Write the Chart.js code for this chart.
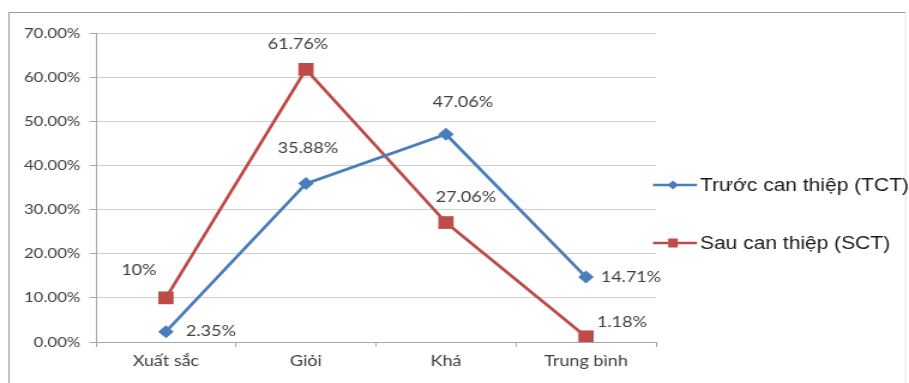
<!DOCTYPE html>
<html>
<head>
<meta charset="utf-8">
<script src="https://cdn.jsdelivr.net/npm/chart.js@4"></script>
<style>
  html, body { margin: 0; padding: 0; background: #ffffff; }
  #wrap { width: 909px; height: 383px; overflow: hidden; }
</style>
</head>
<body>
<!-- drawn on a narrower canvas, then widened to the page width -->
<div id="wrap"><canvas id="c" width="758" height="383" style="display:block;width:909px;height:383px;"></canvas></div>
<script>
// ---- data ----
const categories = ['Xuất sắc', 'Giỏi', 'Khá', 'Trung bình'];
const seriesNames = ['Trước can thiệp (TCT)', 'Sau can thiệp (SCT)'];
const truocCanThiep = [2.35, 35.88, 47.06, 14.71];
const sauCanThiep = [10, 61.76, 27.06, 1.18];
const valueLabelsTCT = ['2.35%', '35.88%', '47.06%', '14.71%'];
const valueLabelsSCT = ['10%', '61.76%', '27.06%', '1.18%'];
const yTicks = [0, 10, 20, 30, 40, 50, 60, 70];

// ---- styling ----
const BLUE = '#4A7EBB';
const RED = '#BE4B48';
const TEXT = '#404040';
const SX = 909 / 758; // horizontal widening of the canvas

// where each value label sits relative to its marker (page pixels)
const labelOffsets = [
  [[45, 0], [2, -35], [17, -32], [45, 0]],
  [[-27, -28], [-8, -25], [20, -25], [36, -15]]
];
const valueLabels = [valueLabelsTCT, valueLabelsSCT];

const framePlugin = {
  id: 'frame',
  beforeDraw(chart) {
    const ctx = chart.ctx;
    ctx.save();
    ctx.fillStyle = '#ffffff';
    ctx.fillRect(0, 0, chart.width, chart.height);
    ctx.lineWidth = 1;
    ctx.strokeStyle = '#9a9a9a';
    ctx.beginPath();
    ctx.moveTo(7.5, 383);
    ctx.lineTo(7.5, 12.5);
    ctx.lineTo(755, 12.5);
    ctx.stroke();
    ctx.strokeStyle = '#e4e4e4';
    ctx.beginPath();
    ctx.moveTo(755, 12.5);
    ctx.lineTo(755, 383);
    ctx.stroke();
    ctx.restore();
  }
};

const valueLabelPlugin = {
  id: 'valueLabels',
  afterDatasetsDraw(chart) {
    const ctx = chart.ctx;
    ctx.save();
    ctx.font = '15px Lato, "Open Sans", sans-serif';
    ctx.fillStyle = TEXT;
    ctx.textAlign = 'center';
    ctx.textBaseline = 'middle';
    chart.data.datasets.forEach((ds, di) => {
      const meta = chart.getDatasetMeta(di);
      meta.data.forEach((pt, i) => {
        const off = labelOffsets[di][i];
        ctx.fillText(valueLabels[di][i], pt.x + off[0] / SX, pt.y + off[1]);
      });
    });
    ctx.restore();
  }
};

const sideLegendPlugin = {
  id: 'sideLegend',
  afterDraw(chart) {
    const ctx = chart.ctx;
    const rows = [185, 243];
    const x0 = 653 / SX, x1 = 697 / SX, xm = 673 / SX, xt = 700 / SX;
    ctx.save();
    chart.data.datasets.forEach((ds, di) => {
      const y = rows[di];
      ctx.strokeStyle = ds.borderColor;
      ctx.lineWidth = 2.5;
      ctx.beginPath();
      ctx.moveTo(x0, y);
      ctx.lineTo(x1, y);
      ctx.stroke();
      ctx.fillStyle = ds.backgroundColor;
      ctx.beginPath();
      if (ds.pointStyle === 'rectRot') {
        const r = 4.5;
        ctx.moveTo(xm - r, y);
        ctx.lineTo(xm, y - r);
        ctx.lineTo(xm + r, y);
        ctx.lineTo(xm, y + r);
        ctx.closePath();
      } else {
        ctx.rect(xm - 4, y - 4.5, 8, 9);
      }
      ctx.fill();
      ctx.fillStyle = '#1a1a1a';
      ctx.font = '17.5px "Liberation Sans", Arial, sans-serif';
      ctx.textAlign = 'left';
      ctx.textBaseline = 'middle';
      ctx.fillText(ds.label, xt, y + 1);
    });
    ctx.restore();
  }
};

new Chart(document.getElementById('c'), {
  type: 'line',
  data: {
    labels: categories,
    datasets: [
      {
        label: seriesNames[0],
        data: truocCanThiep,
        borderColor: BLUE,
        backgroundColor: BLUE,
        borderWidth: 2.75,
        pointStyle: 'rectRot',
        pointRadius: 6.5,
        pointBorderWidth: 0,
        tension: 0
      },
      {
        label: seriesNames[1],
        data: sauCanThiep,
        borderColor: RED,
        backgroundColor: RED,
        borderWidth: 2.75,
        pointStyle: 'rect',
        pointRadius: 9,
        pointBorderWidth: 0,
        tension: 0
      }
    ]
  },
  options: {
    responsive: false,
    animation: false,
    devicePixelRatio: 1,
    layout: { padding: { left: 0, right: 211, top: 33, bottom: 13 } },
    plugins: {
      legend: { display: false },
      tooltip: { enabled: false }
    },
    scales: {
      x: {
        type: 'category',
        offset: true,
        afterFit(s) { s.height = 28; },
        grid: {
          offset: true,
          drawOnChartArea: false,
          drawTicks: true,
          tickLength: 5,
          color: '#a6a6a6'
        },
        border: { display: true, color: '#a6a6a6', width: 1 },
        ticks: {
          padding: 5,
          color: TEXT,
          font: { family: 'Lato, "Open Sans", sans-serif', size: 15 }
        }
      },
      y: {
        min: 0,
        max: 70,
        afterFit(s) { s.width = 80; },
        afterBuildTicks(s) { s.ticks = yTicks.map(v => ({ value: v })); },
        grid: {
          color: '#d0d0d0',
          drawTicks: true,
          tickLength: 5,
          tickColor: '#a6a6a6'
        },
        border: { display: true, color: '#a6a6a6', width: 1 },
        ticks: {
          padding: 8,
          color: TEXT,
          font: { family: 'Lato, "Open Sans", sans-serif', size: 14 },
          callback: (v) => Number(v).toFixed(2) + '%'
        }
      }
    }
  },
  plugins: [framePlugin, valueLabelPlugin, sideLegendPlugin]
});
</script>
</body>
</html>
